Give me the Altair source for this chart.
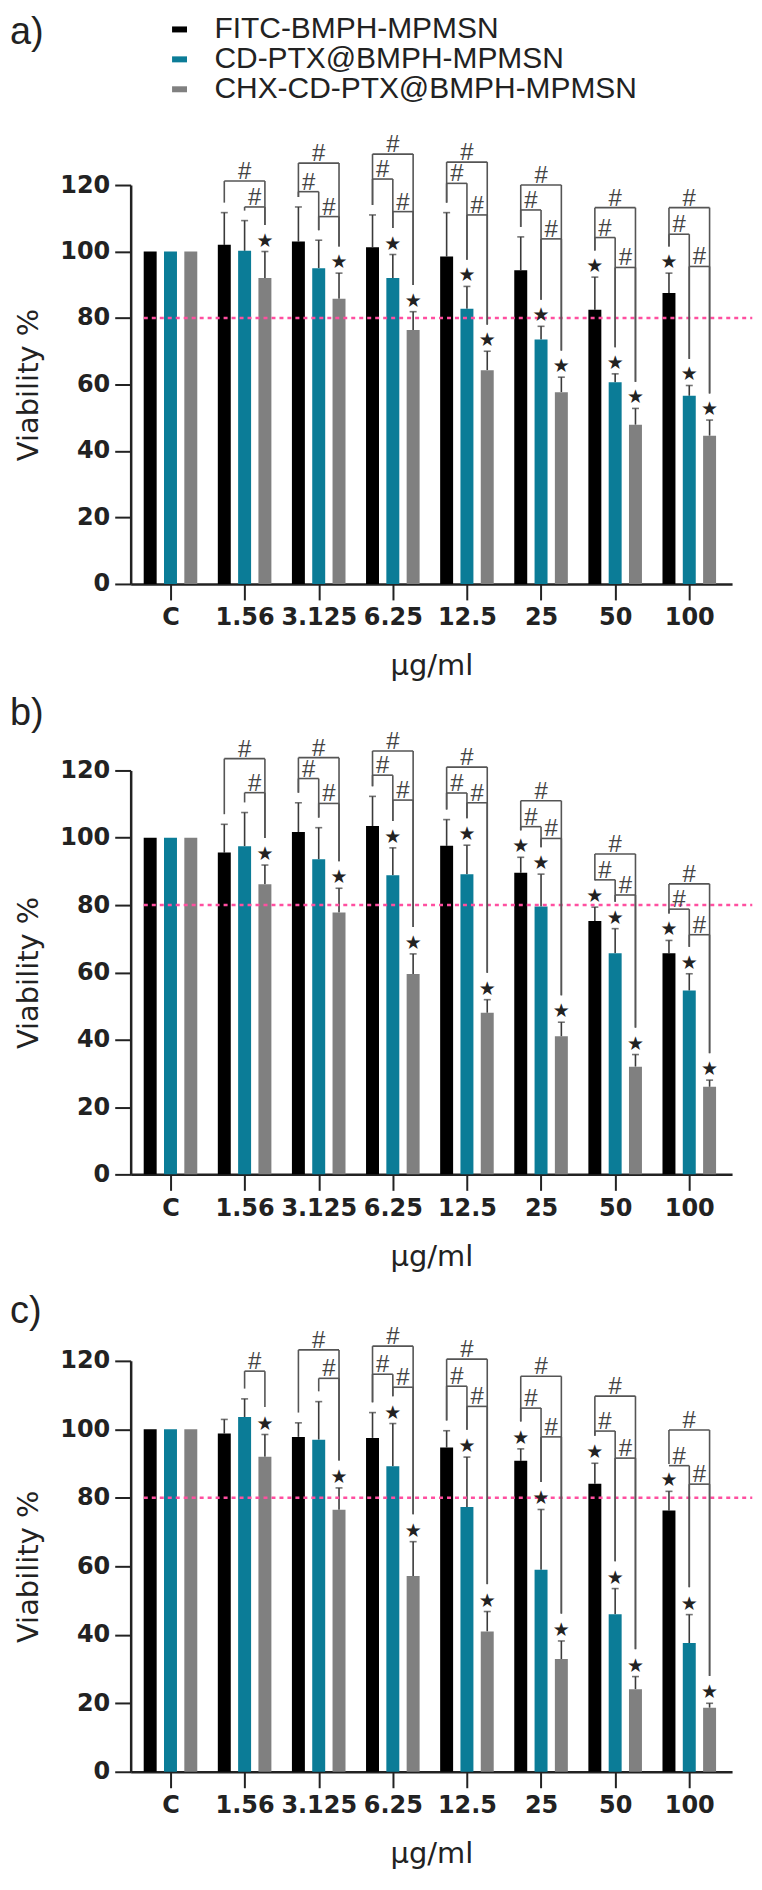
import altair as alt
import pandas as pd

categories = ["C", "1.56", "3.125", "6.25", "12.5", "25", "50", "100"]
series_names = ["FITC-BMPH-MPMSN", "CD-PTX@BMPH-MPMSN", "CHX-CD-PTX@BMPH-MPMSN"]
series_colors = ["#000000", "#0b7c97", "#808080"]
y_ticks = [0, 20, 40, 60, 80, 100, 120]
threshold = [80]

# ---- panel a ----
a_fitc = [100, 102, 103, 101.3, 98.5, 94.4, 82.5, 87.5]
a_fitc_sd = [0, 9.7, 10.4, 9.7, 13.2, 10, 9.8, 6]
a_cd = [100, 100.2, 95, 92, 82.8, 73.5, 60.7, 56.6]
a_cd_sd = [0, 9.1, 8.4, 7.1, 6.7, 4, 2.5, 3.1]
a_chx = [100, 92, 85.8, 76.4, 64.3, 57.7, 47.9, 44.6]
a_chx_sd = [0, 8, 7.7, 5.5, 5.7, 4.5, 4.9, 4.7]
a_stars = [[], [2], [2], [1, 2], [1, 2], [1, 2], [0, 1, 2], [0, 1, 2]]
a_brackets = [
    (1, 0, 2, 121.2), (1, 1, 2, 113.4),
    (2, 0, 2, 126.6), (2, 0, 1, 118), (2, 1, 2, 110.5),
    (3, 0, 2, 129.3), (3, 0, 1, 121.8), (3, 1, 2, 112),
    (4, 0, 2, 126.9), (4, 0, 1, 120.5), (4, 1, 2, 111),
    (5, 0, 2, 120), (5, 0, 1, 112.5), (5, 1, 2, 103.8),
    (6, 0, 2, 113.2), (6, 0, 1, 104.2), (6, 1, 2, 95.2),
    (7, 0, 2, 113.2), (7, 0, 1, 105.2), (7, 1, 2, 95.5),
]

# ---- panel b ----
b_fitc = [100, 95.6, 101.7, 103.5, 97.6, 89.6, 75.3, 65.7]
b_fitc_sd = [0, 8.4, 8.7, 8.8, 7.8, 4.6, 4.1, 3.8]
b_cd = [100, 97.5, 93.6, 88.9, 89.2, 79.6, 65.7, 54.6]
b_cd_sd = [0, 10, 9.4, 8.1, 8.6, 9.6, 7.3, 5]
b_chx = [100, 86.2, 77.8, 59.5, 48, 41, 32, 26]
b_chx_sd = [0, 5.7, 7.2, 6, 3.9, 4.2, 3.6, 2]
b_stars = [[], [2], [2], [1, 2], [1, 2], [0, 1, 2], [0, 1, 2], [0, 1, 2]]
b_brackets = [
    (1, 0, 2, 123.5), (1, 1, 2, 113.4),
    (2, 0, 2, 123.8), (2, 0, 1, 117.6), (2, 1, 2, 110.2),
    (3, 0, 2, 125.8), (3, 0, 1, 118.6), (3, 1, 2, 111.2),
    (4, 0, 2, 121), (4, 0, 1, 113.3), (4, 1, 2, 110.4),
    (5, 0, 2, 111), (5, 0, 1, 103.3), (5, 1, 2, 99.8),
    (6, 0, 2, 95.2), (6, 0, 1, 87.5), (6, 1, 2, 83),
    (7, 0, 2, 86.3), (7, 0, 1, 78.8), (7, 1, 2, 71.2),
]

# ---- panel c ----
c_fitc = [100, 98.8, 97.8, 97.5, 94.7, 90.8, 84.1, 76.3]
c_fitc_sd = [0, 4.1, 4.1, 7.4, 4.9, 3.5, 6, 5.6]
c_cd = [100, 103.6, 97, 89.2, 77.3, 59, 46, 37.6]
c_cd_sd = [0, 5.3, 11.1, 12.5, 14.6, 17.6, 7.5, 8.3]
c_chx = [100, 92, 76.5, 57.2, 41, 32.9, 24.1, 18.7]
c_chx_sd = [0, 6.5, 6.4, 10, 5.8, 5.3, 3.7, 1.3]
c_stars = [[], [2], [2], [1, 2], [1, 2], [0, 1, 2], [0, 1, 2], [0, 1, 2]]
c_brackets = [
    (1, 1, 2, 117),
    (2, 0, 2, 123.2), (2, 1, 2, 114.9),
    (3, 0, 2, 124.3), (3, 0, 1, 116.1), (3, 1, 2, 112.3),
    (4, 0, 2, 120.5), (4, 0, 1, 112.6), (4, 1, 2, 106.7),
    (5, 0, 2, 115.5), (5, 0, 1, 106.2), (5, 1, 2, 97.8),
    (6, 0, 2, 109.7), (6, 0, 1, 99.5), (6, 1, 2, 91.6),
    (7, 0, 2, 99.8), (7, 0, 1, 89.4), (7, 1, 2, 84),
]

# ---- layout constants ----
OFF = [-0.274, 0.0, 0.274]
XDOM = [-0.47, 7.51]
W = 603
INK = "#222222"
LAB_EXPR = "[" + ",".join("'%s'" % c for c in categories) + "][datum.value]"

x_scale = alt.Scale(domain=XDOM, nice=False, zero=False)
y_scale = alt.Scale(domain=[0, 120], nice=False, zero=True)

x_axis = alt.Axis(values=list(range(len(categories))), labelExpr=LAB_EXPR, title="µg/ml",
                  grid=False, domainColor=INK, domainWidth=2.5, tickColor=INK, tickWidth=2,
                  tickSize=16, labelFont="DejaVu Sans", labelFontWeight="bold", labelFontSize=24,
                  labelColor=INK, labelPadding=6, labelOverlap=False, labelFlush=False,
                  titleFont="DejaVu Sans", titleFontSize=29, titleFontWeight="normal",
                  titleColor=INK, titlePadding=22)
y_axis = alt.Axis(values=y_ticks, title="Viability %", grid=False, domainColor=INK, domainWidth=2.5,
                  tickColor=INK, tickWidth=2, tickSize=16, labelFont="DejaVu Sans",
                  labelFontWeight="bold", labelFontSize=24, labelColor=INK, labelPadding=5,
                  titleFont="DejaVu Sans", titleFontSize=29, titleFontWeight="normal",
                  titleColor=INK, titlePadding=16)


def X(f):
    return alt.X(f, scale=x_scale, axis=x_axis)


def Y(f):
    return alt.Y(f, scale=y_scale, axis=y_axis)


def panel(means, sds, stars, brackets, tag, tag_y, height, show_legend):
    rows = []
    for s in range(3):
        for i in range(len(categories)):
            m = means[s][i]
            sd = sds[s][i]
            rows.append(dict(series=series_names[s], x=i + OFF[s], mean=m, top=m + sd,
                             sd=sd, star=(s in stars[i])))
    df = pd.DataFrame(rows)

    def top_of(i, s):
        return means[s][i] + sds[s][i]

    segs, hashes = [], []
    for (i, s1, s2, lev) in brackets:
        x1 = i + OFF[s1]
        x2 = i + OFF[s2]
        segs.append(dict(x=x1, xe=x2, y=lev, ye=lev))
        for (xx, ss) in ((x1, s1), (x2, s2)):
            gap = 8 if ss in stars[i] else 3
            bot = min(lev, top_of(i, ss) + gap)
            segs.append(dict(x=xx, xe=xx, y=lev, ye=bot))
        hashes.append(dict(x=(x1 + x2) / 2, y=lev, t="#"))
    seg_df = pd.DataFrame(segs)
    hash_df = pd.DataFrame(hashes)

    if show_legend:
        legend = alt.Legend(orient="none", legendX=34, legendY=-171, title=None,
                            labelFont="Liberation Sans", labelFontSize=30, labelColor=INK,
                            labelLimit=0, symbolType="M-1,-0.4H1V0.4H-1Z", symbolSize=225,
                            symbolStrokeWidth=0, labelOffset=20, rowPadding=-1, padding=0)
    else:
        legend = None

    color = alt.Color("series:N", sort=series_names,
                      scale=alt.Scale(domain=series_names, range=series_colors),
                      legend=legend)

    base = alt.Chart(df)
    err = base.transform_filter("datum.sd > 0").mark_rule(
        strokeWidth=1.6, color="#3a3a3a", clip=False).encode(x=X("x:Q"), y=Y("mean:Q"), y2="top:Q")
    caps = base.transform_filter("datum.sd > 0").mark_tick(
        orient="horizontal", size=7, thickness=1.6, color="#3a3a3a", clip=False).encode(
        x=X("x:Q"), y=Y("top:Q"))
    bars = base.mark_bar(size=13, orient="vertical", clip=False).encode(
        x=X("x:Q"), y=Y("mean:Q"), y2=alt.datum(0), color=color)
    pink = alt.Chart(pd.DataFrame({"v": threshold})).mark_rule(
        color="#ff4fa0", strokeWidth=2.5, strokeDash=[4, 4], clip=False).encode(
        y=Y("v:Q"), x=alt.datum(-0.36), x2=alt.datum(7.85))
    brk = alt.Chart(seg_df).mark_rule(color="#555555", strokeWidth=1.6, clip=False).encode(
        x=X("x:Q"), x2="xe:Q", y=Y("y:Q"), y2="ye:Q")
    hsh = alt.Chart(hash_df).mark_text(font="Liberation Sans", fontSize=24, color="#444444",
                                       baseline="bottom", dy=3, clip=False).encode(
        x=X("x:Q"), y=Y("y:Q"), text="t:N")
    st = base.transform_filter("datum.star").mark_text(
        text="★", font="DejaVu Sans", fontSize=19, color=INK, baseline="bottom", dy=-1,
        clip=False).encode(x=X("x:Q"), y=Y("top:Q"))
    lab = alt.Chart(pd.DataFrame({"t": [tag]})).mark_text(
        font="Liberation Sans", fontSize=38, color=INK, align="left", baseline="middle").encode(
        text="t:N", x=alt.value(-121), y=alt.value(tag_y))

    return alt.layer(err, caps, bars, pink, brk, hsh, st, lab).properties(width=W, height=height)


pa = panel([a_fitc, a_cd, a_chx], [a_fitc_sd, a_cd_sd, a_chx_sd], a_stars, a_brackets,
           "a)", -152, 400, True)
pb = panel([b_fitc, b_cd, b_chx], [b_fitc_sd, b_cd_sd, b_chx_sd], b_stars, b_brackets,
           "b)", -57, 405, False)
pc = panel([c_fitc, c_cd, c_chx], [c_fitc_sd, c_cd_sd, c_chx_sd], c_stars, c_brackets,
           "c)", -49, 412, False)

chart = alt.vconcat(pa, pb, pc, spacing=187, bounds="flush").resolve_legend(
    color="independent").resolve_scale(color="independent").properties(
    padding={"left": 2, "top": 4, "right": 0, "bottom": 0}).configure_view(stroke=None)

chart.save("out.html", embed_options={"renderer": "svg", "actions": False})
